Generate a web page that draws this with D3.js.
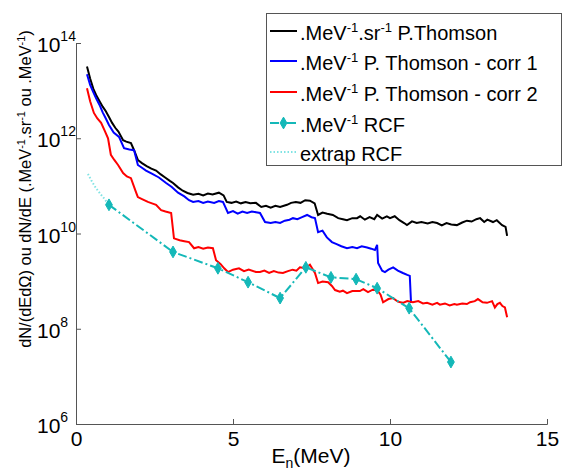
<!DOCTYPE html>
<html>
<head>
<meta charset="utf-8">
<script src="https://cdn.jsdelivr.net/npm/d3@7"></script>
<style>
  body { margin: 0; background: #fff; }
  svg text { font-family: "Liberation Sans", Arial, sans-serif; fill: #000; }
</style>
</head>
<body>
<div id="chart"></div>
<script>
// ---- data ----
const thomsonE = [0.35,0.45,0.55,0.64,0.75,0.85,0.95,1.05,1.15,1.25,1.35,1.5,1.6,1.75,1.85,1.97,2.1,2.25,2.4,2.55,2.7,2.85,3.0,3.09,3.25,3.4,3.55,3.73,3.9,4.05,4.2,4.35,4.55,4.7,4.8,4.95,5.1,5.25,5.4,5.55,5.73,5.9,6.05,6.2,6.35,6.5,6.72,6.85,7.0,7.15,7.3,7.45,7.6,7.71,7.85,8.0,8.18,8.35,8.5,8.63,8.8,8.95,9.05,9.2,9.35,9.5,9.59,9.75,9.9,10.0,10.15,10.3,10.45,10.54,10.7,10.85,11.0,11.2,11.35,11.5,11.65,11.8,11.95,12.13,12.3,12.45,12.6,12.75,12.87,13.0,13.1,13.28,13.4,13.57,13.68,13.73]
const thomson  = [3.2e13,1.8e13,1.1e13,8.1e12,6.0e12,4.6e12,3.7e12,2.8e12,2.1e12,1.66e12,1.38e12,9.1e11,8.5e11,7.9e11,5.6e11,3.5e11,3.0e11,2.6e11,2.3e11,2.1e11,1.74e11,1.48e11,1.26e11,1.15e11,9.3e10,7.9e10,7.1e10,6.5e10,6.8e10,6.3e10,6.9e10,6.6e10,7.2e10,6.3e10,4.6e10,4.4e10,4.7e10,4.3e10,4.6e10,4.3e10,4.4e10,3.6e10,3.8e10,3.5e10,3.8e10,3.6e10,4.0e10,4.4e10,4.6e10,4.4e10,5.0e10,4.9e10,4.3e10,2.45e10,2.75e10,2.6e10,2.45e10,2.1e10,2.0e10,1.9e10,2.1e10,2.1e10,2.3e10,1.95e10,2.2e10,2.0e10,2.45e10,2.05e10,2.3e10,2.1e10,2.3e10,1.9e10,1.66e10,1.5e10,1.8e10,1.66e10,1.74e10,1.62e10,1.74e10,1.66e10,1.48e10,1.66e10,1.55e10,1.5e10,1.7e10,1.86e10,1.78e10,2.0e10,2.1e10,1.74e10,1.95e10,1.74e10,1.9e10,1.5e10,1.38e10,8.9e9]

const corr1E = [0.35,0.45,0.55,0.64,0.75,0.85,0.95,1.05,1.2,1.37,1.53,1.7,1.85,1.97,2.1,2.23,2.4,2.64,2.87,3.05,3.25,3.45,3.6,3.73,3.9,4.05,4.2,4.4,4.55,4.68,4.84,5.0,5.15,5.3,5.45,5.6,5.73,5.86,6.02,6.2,6.35,6.5,6.65,6.8,6.91,7.05,7.2,7.36,7.5,7.61,7.71,7.85,7.99,8.15,8.3,8.45,8.63,8.8,8.95,9.1,9.27,9.4,9.52,9.59,9.62,9.75,9.84,9.95,10.1,10.25,10.41,10.55,10.63,10.67]
const corr1  = [2.2e13,1.32e13,9.3e12,6.9e12,5.0e12,3.5e12,2.6e12,1.9e12,1.32e12,1.07e12,6.2e11,5.8e11,5.6e11,2.75e11,2.4e11,2.1e11,1.82e11,1.5e11,1.15e11,9.5e10,7.2e10,6.0e10,5.0e10,4.6e10,4.8e10,4.4e10,4.7e10,4.4e10,4.8e10,4.6e10,2.7e10,2.95e10,2.6e10,2.9e10,2.7e10,2.9e10,2.8e10,2.7e10,1.74e10,1.66e10,1.74e10,1.66e10,1.86e10,1.95e10,2.1e10,2.0e10,2.2e10,2.45e10,2.2e10,2.1e10,1.07e10,1.15e10,8.3e9,6.6e9,6.0e9,5.4e9,4.9e9,5.2e9,4.9e9,5.4e9,5.1e9,4.8e9,4.5e9,5.8e9,2.4e9,1.66e9,1.55e9,1.74e9,1.95e9,1.66e9,1.48e9,1.35e9,1.29e9,3.5e8]

const corr2E = [0.35,0.45,0.57,0.68,0.8,0.92,1.02,1.11,1.22,1.34,1.5,1.62,1.75,1.91,1.97,2.12,2.29,2.42,2.55,2.71,2.85,3.03,3.12,3.3,3.45,3.6,3.76,3.9,4.05,4.2,4.36,4.46,4.6,4.72,4.84,5.0,5.19,5.35,5.5,5.73,5.86,6.0,6.15,6.3,6.45,6.59,6.75,6.9,7.02,7.13,7.3,7.45,7.61,7.71,7.85,8.03,8.15,8.25,8.4,8.5,8.63,8.8,9.04,9.15,9.3,9.45,9.59,9.7,9.78,9.95,10.1,10.25,10.41,10.55,10.73,10.9,11.05,11.18,11.35,11.5,11.59,11.75,11.9,12.05,12.13,12.3,12.45,12.55,12.7,12.8,12.95,13.09,13.25,13.34,13.42,13.5,13.58,13.66,13.73]
const corr2  = [1.12e13,6.0e12,3.4e12,2.6e12,2.1e12,1.41e12,1.0e12,4.5e11,3.5e11,2.75e11,1.86e11,1.58e11,1.45e11,7.4e10,5.8e10,5.2e10,4.6e10,4.3e10,4.0e10,3.1e10,2.9e10,2.7e10,7.9e9,7.2e9,6.9e9,6.6e9,4.9e9,5.2e9,4.8e9,5.1e9,4.9e9,2.75e9,2.3e9,1.86e9,1.55e9,1.74e9,1.86e9,1.62e9,1.74e9,1.55e9,1.55e9,1.66e9,1.48e9,1.62e9,1.51e9,1.48e9,1.62e9,1.74e9,1.66e9,1.95e9,1.86e9,2.2e9,1.48e9,9.1e8,9.8e8,9.5e8,7.9e8,6.5e8,6.0e8,6.3e8,5.6e8,6.2e8,6.2e8,6.8e8,5.9e8,6.6e8,6.5e8,5.2e8,3.6e8,4.2e8,4.4e8,3.7e8,3.5e8,3.8e8,3.6e8,3.8e8,3.4e8,3.5e8,3.2e8,3.5e8,3.2e8,3.4e8,3.1e8,3.3e8,3.2e8,3.4e8,3.3e8,3.6e8,3.8e8,4.2e8,3.6e8,3.5e8,3.8e8,2.8e8,3.3e8,3.5e8,3.0e8,2.8e8,1.74e8]

const rcfE = [1.05,3.09,4.52,5.48,6.5,7.32,8.12,8.92,9.59,10.61,11.94]
const rcf  = [4.0e10,4.1e9,1.86e9,9.5e8,4.4e8,1.95e9,1.2e9,1.1e9,7.1e8,2.7e8,2.0e7]

const extrapE = [0.38,0.5,0.64,0.77,0.89,1.05]
const extrap  = [1.78e11,1.26e11,8.9e10,6.9e10,5.5e10,4.0e10]

const xTicks = [0, 5, 10, 15]
const yTicks = [1e6, 1e8, 1e10, 1e12, 1e14]

const legendLabels = [
  [['.MeV'], ['-1', 'sup'], ['.sr'], ['-1', 'sup'], [' P.Thomson']],
  [['.MeV'], ['-1', 'sup'], [' P. Thomson - corr 1']],
  [['.MeV'], ['-1', 'sup'], [' P. Thomson - corr 2']],
  [['.MeV'], ['-1', 'sup'], [' RCF']],
  [['extrap RCF']]
]

// ---- chart ----
const W = 563, H = 473
const svg = d3.select('#chart').append('svg').attr('width', W).attr('height', H)

const x = d3.scaleLinear().domain([0, 15]).range([76, 547])
const y = d3.scaleLog().domain([1e6, 1e14]).range([424, 43])

// axes
let gx = svg.append('g').attr('transform', 'translate(0,424)')
  .call(d3.axisBottom(x).tickValues(xTicks).tickSize(-5).tickPadding(7))
gx.select('.domain').attr('stroke', '#555')
gx.selectAll('.tick line').attr('stroke', '#555')
gx.selectAll('.tick text').style('font-size', '21px')

let gy = svg.append('g').attr('transform', 'translate(76,0)')
  .call(d3.axisLeft(y).tickValues(yTicks).tickSize(-5).tickFormat(''))
gy.select('.domain').attr('stroke', '#555')
gy.selectAll('.tick line').attr('stroke', '#555')

yTicks.forEach(v => {
  let t = svg.append('text').attr('x', 37).attr('y', y(v) + 9).style('font-size', '21px')
  t.append('tspan').text('10')
  t.append('tspan').attr('dy', -11).style('font-size', '14px').text(Math.round(Math.log10(v)))
})

// axis titles
let xl = svg.append('text').attr('x', 311).attr('y', 463).attr('text-anchor', 'middle').style('font-size', '21px')
xl.append('tspan').text('E')
xl.append('tspan').attr('dy', 5).style('font-size', '14px').text('n')
xl.append('tspan').attr('dy', -5).text('(MeV)')

let yl = svg.append('text').attr('transform', 'translate(31,189) rotate(-90)')
  .attr('text-anchor', 'middle').style('font-size', '16.4px')
;[['dN/(dEdΩ) ou dN/dE (.MeV'], ['-1', 1], ['.sr'], ['-1', 1], [' ou .MeV'], ['-1', 1], [')']].forEach(p => {
  let s = yl.append('tspan').text(p[0])
  if (p[1]) s.attr('dy', -6).style('font-size', '11px')
  else if (yl.selectAll('tspan').size() > 1) s.attr('dy', 6)
})

// series
const line = d3.line().x(d => x(d[0])).y(d => y(d[1]))
const series = [
  { e: thomsonE, v: thomson, color: '#000000', dash: null },
  { e: corr1E,   v: corr1,   color: '#0000ff', dash: null },
  { e: corr2E,   v: corr2,   color: '#ff0000', dash: null },
  { e: extrapE,  v: extrap,  color: '#7fe3e3', dash: '1.5,2' },
  { e: rcfE,     v: rcf,     color: '#14b8b8', dash: '9,3,2,3' }
]
series.forEach(s => {
  svg.append('path')
    .datum(d3.zip(s.e, s.v))
    .attr('d', line)
    .attr('fill', 'none')
    .attr('stroke', s.color)
    .attr('stroke-width', 2)
    .attr('stroke-dasharray', s.dash)
})

const diamond = d3.symbol().type(d3.symbolDiamond).size(40)
svg.selectAll('path.rcf').data(d3.zip(rcfE, rcf)).enter().append('path')
  .attr('class', 'rcf')
  .attr('d', diamond)
  .attr('transform', d => `translate(${x(d[0])},${y(d[1])})`)
  .attr('fill', '#14b8b8')
  .attr('stroke', '#14b8b8')

// legend
let lg = svg.append('g')
lg.append('rect').attr('x', 266.5).attr('y', 13.5).attr('width', 295).attr('height', 152)
  .attr('fill', '#fff').attr('stroke', '#555')
const rowY = [31, 61, 92, 123, 152]
const rowStyle = [series[0], series[1], series[2], series[4], series[3]]
legendLabels.forEach((lab, i) => {
  let st = rowStyle[i]
  lg.append('line').attr('x1', 270).attr('x2', 297).attr('y1', rowY[i]).attr('y2', rowY[i])
    .attr('stroke', st.color).attr('stroke-width', 2).attr('stroke-dasharray', st.dash)
  if (i === 3)
    lg.append('path').attr('d', diamond).attr('transform', `translate(283.5,${rowY[i]})`)
      .attr('fill', st.color).attr('stroke', st.color)
  let t = lg.append('text').attr('x', 300).attr('y', rowY[i] + 9).style('font-size', '20px')
  let up = false
  lab.forEach(p => {
    let s = t.append('tspan').text(p[0])
    if (p[1] === 'sup') { s.attr('dy', -8).style('font-size', '13px'); up = true }
    else if (up) { s.attr('dy', 8); up = false }
  })
})
</script>
</body>
</html>
